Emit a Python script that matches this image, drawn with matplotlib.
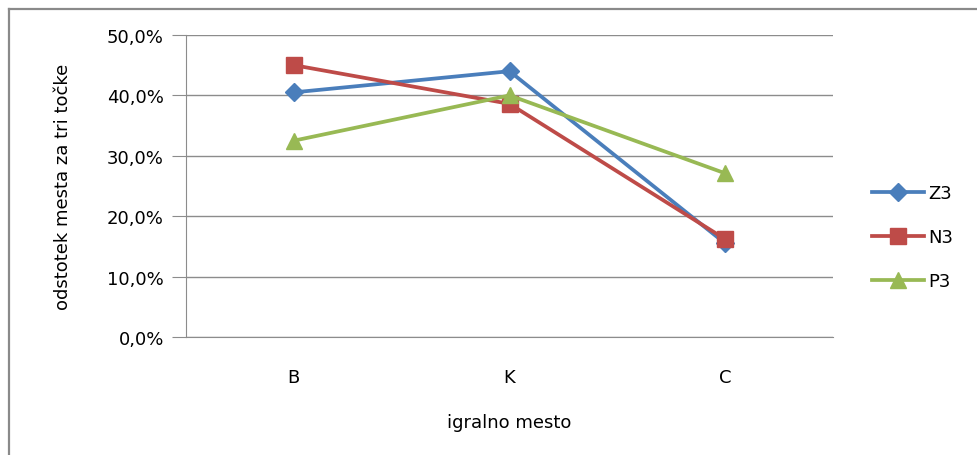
import matplotlib.pyplot as plt
from matplotlib.lines import Line2D
from matplotlib.ticker import FuncFormatter

positions = ["B", "K", "C"]
z3 = [40.5, 44.0, 15.5]
n3 = [45.0, 38.6, 16.2]
p3 = [32.5, 40.0, 27.1]

series = [
    ("Z3", z3, "#4A7EBB", "D", 9.5),
    ("N3", n3, "#BE4B48", "s", 11),
    ("P3", p3, "#98B954", "^", 12),
]

fig = plt.figure(figsize=(9.77, 4.56), dpi=100)
ax = fig.add_axes([0.1904, 0.2588, 0.6622, 0.6623])

x = range(len(positions))
for name, vals, col, mk, ms in series:
    ax.plot(x, vals, color=col, linewidth=2.7, marker=mk, markersize=ms,
            label=name, solid_joinstyle="round")

ax.set_xlim(-0.5, 2.5)
ax.set_ylim(0, 50)
ax.set_yticks(range(0, 51, 10))
ax.yaxis.set_major_formatter(FuncFormatter(lambda v, p: f"{v:.1f}%".replace(".", ",")))
ax.set_xticks(list(x))
ax.set_xticklabels(positions)

ax.grid(axis="y", color="#8c8c8c", linewidth=1)
ax.set_axisbelow(True)
for s in ["top", "right"]:
    ax.spines[s].set_visible(False)
ax.spines["left"].set_color("#8c8c8c")
ax.spines["bottom"].set_color("#8c8c8c")
ax.tick_params(axis="y", length=10, color="#8c8c8c", labelsize=13, pad=6)
ax.tick_params(axis="x", length=0, labelsize=13, pad=22)

ax.set_ylabel("odstotek mesta za tri točke", fontsize=13, labelpad=25)
ax.set_xlabel("igralno mesto", fontsize=13, labelpad=20)

ax.legend(loc="center left", bbox_to_anchor=(0.885, 0.478), bbox_transform=fig.transFigure,
          frameon=False, fontsize=13, handlelength=2.9, handletextpad=0.2,
          labelspacing=1.45, borderaxespad=0)

# outer chart frame (left and top edges)
fx = 9 / 977
fy = 1 - 10 / 456
fig.add_artist(Line2D([fx, fx], [0, fy], transform=fig.transFigure, color="#8a8a8a", linewidth=1.6))
fig.add_artist(Line2D([fx, 1], [fy, fy], transform=fig.transFigure, color="#8a8a8a", linewidth=1.6))

fig.savefig("out.png", dpi=100)
